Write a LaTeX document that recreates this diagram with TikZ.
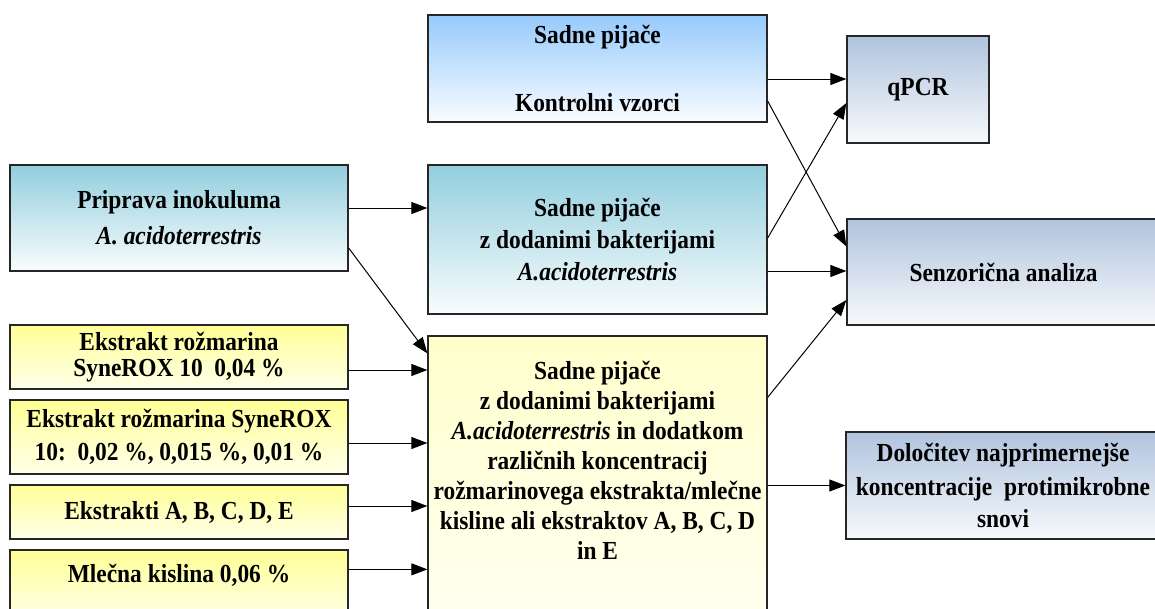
\documentclass[tikz,border=0pt]{standalone}
\usepackage{fontspec}
\setmainfont{Liberation Serif}[FakeStretch=0.9]
\usetikzlibrary{arrows.meta,positioning}

\definecolor{skyblue}{RGB}{150,202,252}
\definecolor{tealblue}{RGB}{146,206,222}
\definecolor{greyblue}{RGB}{176,196,222}
\definecolor{strongyellow}{RGB}{255,255,150}
\definecolor{paleyellow}{RGB}{255,255,204}

\begin{document}
\begin{tikzpicture}[x=1pt,y=1pt,
    box/.style={draw=black!85,line width=1.3pt,inner sep=0pt,align=center,
      font=\bfseries\fontsize{26}{30}\selectfont},
    boxtext/.style={inner sep=0pt,align=center,font=\bfseries\fontsize{26}{30}\selectfont},
    skybox/.style={box,top color=skyblue,bottom color=skyblue!5},
    tealbox/.style={box,top color=tealblue,bottom color=tealblue!5},
    greybox/.style={box,top color=greyblue,bottom color=greyblue!10},
    yellowbox/.style={box,top color=strongyellow,bottom color=strongyellow!20},
    bigyellow/.style={box,top color=paleyellow,bottom color=paleyellow!30},
    >={Triangle[length=16pt,width=12pt]}]
    \useasboundingbox (0,0) rectangle (1155,-608);

    % left column
    \node[tealbox,minimum width=338pt,minimum height=106pt] (prip) at (179,-218)
      {Priprava inokuluma\\[6pt]\textit{A. acidoterrestris}};
    \node[yellowbox,minimum width=338pt,minimum height=64pt] (rosa) at (179,-357)
      {Ekstrakt rožmarina\\[-4pt]SyneROX 10\ \ 0,04 \%};
    \node[yellowbox,minimum width=338pt,minimum height=74pt] (rosb) at (179,-437)
      {Ekstrakt rožmarina SyneROX\\[3pt]10:\ \ 0,02 \%, 0,015 \%, 0,01 \%};
    \node[yellowbox,minimum width=338pt,minimum height=54pt] (extr) at (179,-512)
      {Ekstrakti A, B, C, D, E};
    \node[yellowbox,minimum width=338pt,minimum height=70pt] (acid) at (179,-585) {};
    \node[boxtext,below=15pt of acid.north] (acidtext) {Mlečna kislina 0,06 \%};

    % middle column
    \node[skybox,minimum width=339pt,minimum height=107pt] (kontrol) at (597.5,-68.5)
      {Sadne pijače\\[38pt]Kontrolni vzorci};
    \node[tealbox,minimum width=339pt,minimum height=149pt] (bakt) at (597.5,-239.5)
      {Sadne pijače\\[2pt]z dodanimi bakterijami\\[2pt]\textit{A.acidoterrestris}};
    \node[bigyellow,minimum width=339pt,minimum height=284pt] (mix) at (597.5,-478) {};
    \node[boxtext,below=26pt of mix.north] (mixtext)
      {Sadne pijače\\z dodanimi bakterijami\\\textit{A.acidoterrestris} in dodatkom\\
       različnih koncentracij\\rožmarinovega ekstrakta/mlečne\\kisline ali ekstraktov A, B, C, D\\in E};

    % right column
    \node[greybox,minimum width=142pt,minimum height=107pt] (qpcr) at (918,-89.5) {qPCR};
    \node[greybox,minimum width=313pt,minimum height=106pt] (senz) at (1003.5,-272)
      {Senzorična analiza};
    \node[greybox,minimum width=314pt,minimum height=107pt] (dolo) at (1003,-485.5)
      {Določitev najprimernejše\\[4pt]koncentracije\ \ protimikrobne\\[2pt]snovi};

    \path[->,line width=1pt]
    ([yshift=10pt]prip.east) edge ([yshift=10pt]prip.east -| bakt.west)
    ([yshift=-30pt]prip.east) edge ([yshift=-18pt]mix.north west)
    ([yshift=-13pt]rosa.east) edge ([yshift=-13pt]rosa.east -| mix.west)
    ([yshift=-6pt]rosb.east) edge ([yshift=-6pt]rosb.east -| mix.west)
    ([yshift=6pt]extr.east) edge ([yshift=6pt]extr.east -| mix.west)
    ([yshift=-20pt]acid.north east) edge ([yshift=-20pt]acid.north east -| mix.west);
    \path[->,line width=1pt]
    ([yshift=-10.5pt]kontrol.east) edge ([yshift=-10.5pt]kontrol.east -| qpcr.west)
    ([yshift=-32.5pt]kontrol.east) edge ([yshift=-28pt]senz.north west)
    ([yshift=1.5pt]bakt.east) edge ([yshift=-13.5pt]qpcr.west)
    ([yshift=-31.5pt]bakt.east) edge ([yshift=-31.5pt]bakt.east -| senz.west)
    ([yshift=-62pt]mix.north east) edge ([yshift=-28pt]senz.west)
    (mix.east |- dolo.west) edge (dolo.west);
\end{tikzpicture}
\end{document}
